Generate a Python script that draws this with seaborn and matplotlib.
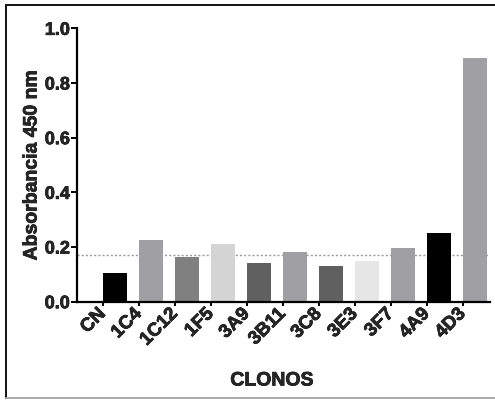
import matplotlib
matplotlib.use("Agg")
import matplotlib.pyplot as plt
from matplotlib.lines import Line2D
import matplotlib.transforms as mtransforms
import matplotlib.patheffects as pe
import seaborn as sns
import pandas as pd

# Absorbance readings per clone
clones = ["CN", "1C4", "1C12", "1F5", "3A9", "3B11", "3C8", "3E3", "3F7", "4A9", "4D3"]
absorbance = [0.106, 0.227, 0.163, 0.212, 0.140, 0.181, 0.131, 0.150, 0.196, 0.250, 0.890]
bar_colors = ["#000000", "#a0a0a4", "#808080", "#d4d4d4", "#606060", "#a0a0a4",
              "#606060", "#e6e6e6", "#a0a0a4", "#000000", "#a0a0a4"]
cutoff = 0.171
y_ticks = [0.0, 0.2, 0.4, 0.6, 0.8, 1.0]
y_tick_labels = ["0.0", "0.2", "0.4", "0.6", "0.8", "1.0"]

sns.set_theme(style="white")
plt.rcParams["font.family"] = ["Liberation Sans", "DejaVu Sans"]
plt.rcParams["font.weight"] = "bold"

heavy = [pe.withStroke(linewidth=0.5, foreground="black")]

df = pd.DataFrame({"clone": clones, "abs": absorbance})

fig = plt.figure(figsize=(4.95, 4.0), dpi=100)
ax = fig.add_axes([77 / 495, 1 - 301.7 / 400, 413 / 495, 273.4 / 400])

ax.axhline(cutoff, color="#9a9a9a", linestyle=(0, (1.5, 1.5)), linewidth=1.0, zorder=0)
sns.barplot(data=df, x="clone", y="abs", hue="clone", order=clones,
            palette=bar_colors, width=0.67, legend=False, saturation=1,
            edgecolor="none", ax=ax, zorder=2)

ax.set_xlim(-1.056, 10.42)
ax.set_ylim(0, 1.0)
ax.set_yticks(y_ticks)
ax.set_yticklabels(y_tick_labels, fontsize=13, fontweight="bold")
ax.set_xticks([i - 0.333 for i in range(len(clones))])
ax.set_xticklabels(clones, fontsize=13.5, fontweight="bold", rotation=45,
                   ha="right", va="center", rotation_mode="anchor")
shift = mtransforms.ScaledTranslation(5 / 100, -6 / 100, fig.dpi_scale_trans)
for lbl in ax.get_xticklabels():
    lbl.set_transform(lbl.get_transform() + shift)
    lbl.set_path_effects(heavy)
for lbl in ax.get_yticklabels():
    lbl.set_path_effects(heavy)

for side in ["top", "right"]:
    ax.spines[side].set_visible(False)
for side in ["left", "bottom"]:
    ax.spines[side].set_color("black")
    ax.spines[side].set_linewidth(1.6)

ax.tick_params(axis="y", which="both", left=True, length=4, width=1.4, color="black", pad=1)
ax.tick_params(axis="x", which="both", bottom=True, length=3, width=1.4, color="black", pad=4)

ax.set_xlabel("")
ax.set_ylabel("Absorbancia 450 nm", fontsize=14, fontweight="bold", labelpad=3,
              path_effects=heavy)
fig.text(272 / 495, 1 - 381 / 400, "CLONOS", fontsize=14, fontweight="bold",
         ha="center", va="center", path_effects=heavy)

# Outer frame
fig.add_artist(Line2D([6 / 495, 6 / 495], [1 - 5 / 400, 2 / 400], color="#111111",
                      linewidth=1.4, transform=fig.transFigure))
fig.add_artist(Line2D([6 / 495, 1.0], [1 - 5 / 400, 1 - 5 / 400], color="#111111",
                      linewidth=1.4, transform=fig.transFigure))
fig.add_artist(Line2D([6 / 495, 1.0], [2 / 400, 2 / 400], color="#aaaaaa",
                      linewidth=1.4, transform=fig.transFigure))

fig.savefig("out.png", dpi=100)
